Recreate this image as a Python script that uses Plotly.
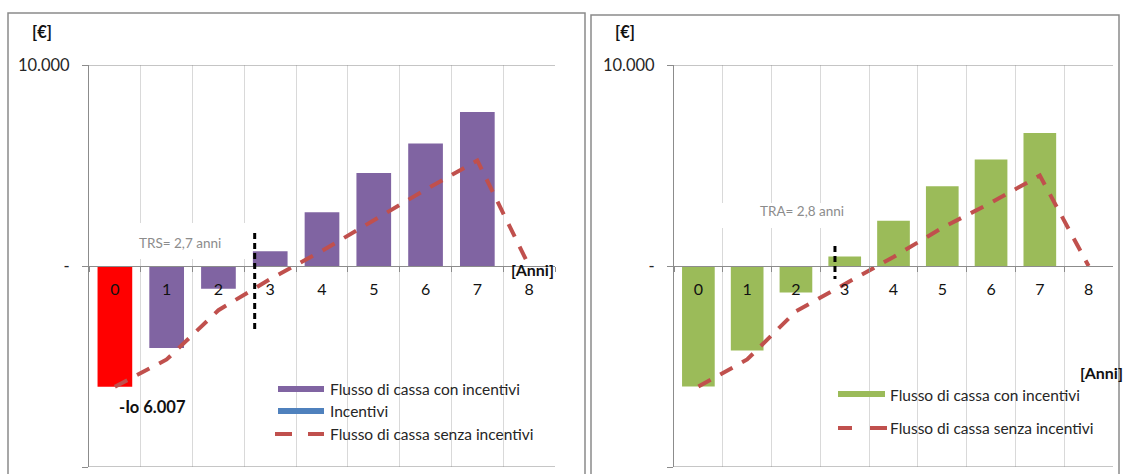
import plotly.graph_objects as go

# ---- data -------------------------------------------------------------
ANNI = ["0", "1", "2", "3", "4", "5", "6", "7", "8"]

IO = 6007  # investimento iniziale

# grafico a sinistra
FLUSSO_CON_INC_S = [-IO, -4080, -1130, 730, 2680, 4630, 6100, 7660, None]
FLUSSO_SENZA_INC_S = [-IO, -4650, -2200, -650, 750, 2300, 3800, 5250, 0]
TRS = 2.7
TRS_SPAN = [1640, -3130]

# grafico a destra
FLUSSO_CON_INC_D = [-6000, -4200, -1320, 470, 2250, 3970, 5300, 6620, None]
FLUSSO_SENZA_INC_D = [-6000, -4650, -2250, -900, 450, 1900, 3150, 4500, 0]
TRA = 2.8
TRA_SPAN = [1000, -650]

Y_MIN, Y_MAX = -10000, 10000
Y_TICKS = [-10000, 0, 10000]
Y_TICK_TEXT = ["-10.000", "-", "10.000"]

# ---- style ------------------------------------------------------------
W, H = 1127, 474
FONT = "Lato"
VIOLA = "#8064A2"
ROSSO = "#FF0000"
VERDE = "#9BBB59"
BLU = "#4F81BD"
LINEA = "#C0504D"
ASSE = "#8C8C8C"
GRIGLIA = "#D9D9D9"
X_RANGE = [-0.5, len(ANNI) - 0.5]


def px(x):
    return x / W


def py(y):
    return (H - y) / H


def num_it(v):
    return f"{v:.1f}".replace(".", ",")


Y_DOM = [py(467), py(65)]
ZERO_POS = (Y_DOM[0] + Y_DOM[1]) / 2

fig = go.Figure()

fig.add_trace(go.Bar(
    x=ANNI, y=FLUSSO_CON_INC_S, xaxis="x", yaxis="y",
    marker=dict(color=[ROSSO] + [VIOLA] * (len(ANNI) - 1), line=dict(width=0)),
    showlegend=False, hoverinfo="x+y"))
fig.add_trace(go.Scatter(
    x=ANNI, y=FLUSSO_SENZA_INC_S, xaxis="x", yaxis="y", mode="lines",
    line=dict(color=LINEA, width=4, dash="14px,11px"), showlegend=False))

fig.add_trace(go.Bar(
    x=ANNI, y=FLUSSO_CON_INC_D, xaxis="x2", yaxis="y2",
    marker=dict(color=VERDE, line=dict(width=0)),
    showlegend=False, hoverinfo="x+y"))
fig.add_trace(go.Scatter(
    x=ANNI, y=FLUSSO_SENZA_INC_D, xaxis="x2", yaxis="y2", mode="lines",
    line=dict(color=LINEA, width=4, dash="14px,11px"), showlegend=False))


def x_axis(domain):
    return dict(
        domain=domain, type="category", anchor="free", position=ZERO_POS,
        tickson="boundaries", ticks="outside", ticklen=5,
        tickcolor=ASSE, showline=True, linecolor=ASSE, linewidth=1,
        showgrid=True, gridcolor=GRIGLIA, gridwidth=1,
        tickfont=dict(family=FONT, size=16, color="#111111"),
        ticklabelstandoff=9, range=X_RANGE, fixedrange=True,
        automargin=False,
    )


def y_axis(anchor_x):
    return dict(
        domain=Y_DOM, anchor=anchor_x, range=[Y_MIN, Y_MAX],
        tickvals=Y_TICKS, ticktext=Y_TICK_TEXT, ticks="outside", ticklen=6,
        tickcolor=ASSE, showline=True, linecolor=ASSE, linewidth=1,
        showgrid=True, gridcolor=ASSE, gridwidth=1, zeroline=False,
        tickfont=dict(family=FONT, size=16.5, color="#262626"),
        ticklabelstandoff=9, fixedrange=True, automargin=False,
    )


fig.update_layout(
    xaxis=x_axis([px(89), px(555)]), yaxis=y_axis("x"),
    xaxis2=x_axis([px(674), px(1113)]), yaxis2=y_axis("x2"),
)

shapes = []
annotations = []


def testo(x, y, t, size, color, xanchor="center", bold=False):
    annotations.append(dict(
        xref="paper", yref="paper", x=px(x), y=py(y),
        xanchor=xanchor, yanchor="middle",
        text=f"<b>{t}</b>" if bold else t, showarrow=False,
        font=dict(family=FONT, size=size, color=color)))


# riquadri dei due grafici
shapes.append(dict(type="rect", xref="paper", yref="paper",
                   x0=px(8), x1=px(585), y0=py(490), y1=py(13),
                   line=dict(color="#8A8A8A", width=1.5), layer="below"))
shapes.append(dict(type="rect", xref="paper", yref="paper",
                   x0=px(591), x1=px(1119), y0=py(490), y1=py(15),
                   line=dict(color="#8A8A8A", width=1.5), layer="below"))

# griglia orizzontale ai limiti dell'asse valori
for xr, yr in [("x", "y"), ("x2", "y2")]:
    for yv in (Y_MIN, Y_MAX):
        shapes.append(dict(type="line", xref=xr, yref=yr,
                           x0=X_RANGE[0], x1=X_RANGE[1], y0=yv, y1=yv,
                           line=dict(color=ASSE, width=1), layer="between"))

# etichette tempo di ritorno con fondo bianco (sopra la griglia, sotto le barre)
shapes.append(dict(type="rect", xref="x", yref="y",
                   x0=-0.29, x1=2.84, y0=350, y1=2140,
                   fillcolor="white", line=dict(width=0), layer="between"))
shapes.append(dict(type="rect", xref="x2", yref="y2",
                   x0=0.40, x1=3.35, y0=1890, y1=3130,
                   fillcolor="white", line=dict(width=0), layer="between"))
testo(180, 243, f"TRS= {num_it(TRS)} anni", 13.5, "#8C8C8C")
testo(802, 211, f"TRA= {num_it(TRA)} anni", 13.5, "#8C8C8C")

# linee verticali del tempo di ritorno
shapes.append(dict(type="line", xref="x", yref="y", x0=TRS, x1=TRS,
                   y0=TRS_SPAN[0], y1=TRS_SPAN[1],
                   line=dict(color="black", width=3, dash="6px,4px"), layer="above"))
shapes.append(dict(type="line", xref="x2", yref="y2", x0=TRA, x1=TRA,
                   y0=TRA_SPAN[0], y1=TRA_SPAN[1],
                   line=dict(color="black", width=3, dash="6px,4px"), layer="above"))

# unita di misura
testo(42, 32, "[€]", 16.5, "#111111", bold=True)
testo(625, 32, "[€]", 16.5, "#111111", bold=True)
testo(532, 270, "[Anni]", 16, "#111111", bold=True)
testo(1101, 372, "[Anni]", 16, "#111111", bold=True)

testo(152, 407, f"-Io {IO:,}".replace(",", "."), 16.5, "#111111", bold=True)


# legende
def leg_rect(x0, x1, yc, color):
    shapes.append(dict(type="rect", xref="paper", yref="paper",
                       x0=px(x0), x1=px(x1), y0=py(yc + 3), y1=py(yc - 3),
                       fillcolor=color, line=dict(width=0), layer="above"))


def leg_dash(segs, yc):
    for a, b in segs:
        shapes.append(dict(type="line", xref="paper", yref="paper",
                           x0=px(a), x1=px(b), y0=py(yc), y1=py(yc),
                           line=dict(color=LINEA, width=4), layer="above"))


def leg_text(x, yc, t):
    testo(x, yc, t, 15.5, "#262626", xanchor="left")


leg_rect(278, 324, 389, VIOLA)
leg_text(328, 389, "Flusso di cassa con incentivi")
leg_rect(278, 324, 411, BLU)
leg_text(328, 411, "Incentivi")
leg_dash([(275, 292), (308, 324)], 434)
leg_text(328, 434, "Flusso di cassa senza incentivi")

leg_rect(838, 885, 394, VERDE)
leg_text(888, 395, "Flusso di cassa con incentivi")
leg_dash([(838, 852), (870, 887)], 428)
leg_text(888, 428, "Flusso di cassa senza incentivi")

fig.update_layout(
    width=W, height=H, margin=dict(l=0, r=0, t=0, b=0, autoexpand=False),
    paper_bgcolor="white", plot_bgcolor="white",
    barmode="overlay", bargap=0.33, showlegend=False,
    shapes=shapes, annotations=annotations,
    font=dict(family=FONT),
)

fig.write_html("out.html")
